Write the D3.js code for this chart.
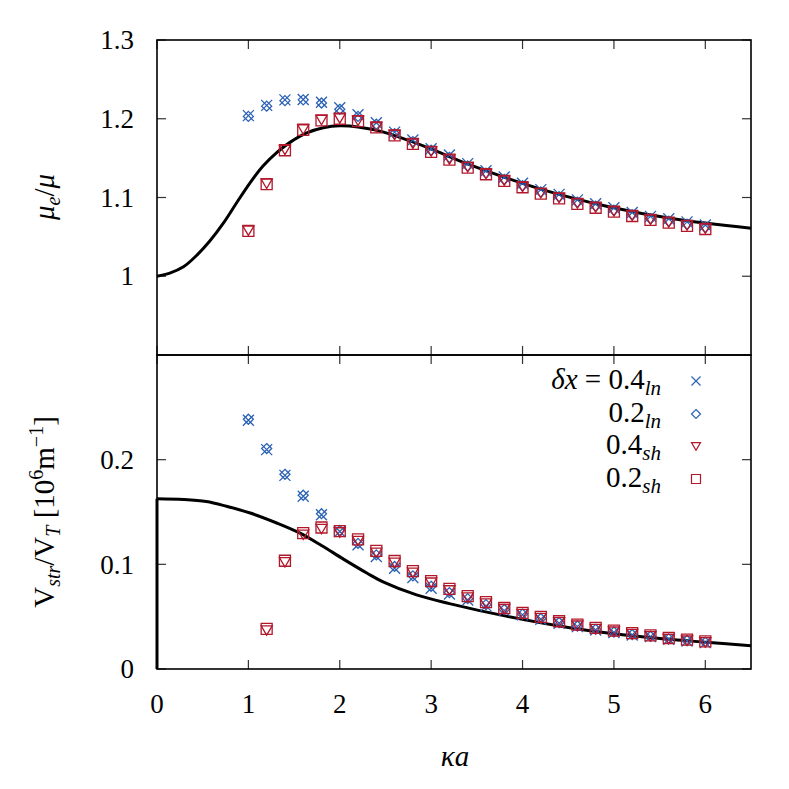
<!doctype html>
<meta charset='utf-8' />
<script src='https://cdn.jsdelivr.net/npm/d3@7'></script>
<style>
    body { margin: 0; background: #fff; }
</style>
<svg></svg>
<script>
    var width = 789,
        height = 789,
        fontSize = 27,
        tickLen = 9,
        serif = "'Liberation Serif', 'DejaVu Serif', 'Times New Roman', serif"

    // data points, kappa*a
    var kappa = [1.0, 1.2, 1.4, 1.6, 1.8, 2.0, 2.2, 2.4, 2.6, 2.8, 3.0, 3.2, 3.4,
        3.6, 3.8, 4.0, 4.2, 4.4, 4.6, 4.8, 5.0, 5.2, 5.4, 5.6, 5.8, 6.0]

    // mu_e / mu
    var muLn04 = [1.204, 1.217, 1.224, 1.2245, 1.221, 1.214, 1.205, 1.195, 1.183, 1.173, 1.162, 1.154, 1.143,
        1.134, 1.126, 1.118, 1.110, 1.104, 1.097, 1.092, 1.087, 1.081, 1.076, 1.073, 1.069, 1.065]
    var muLn02 = [1.203, 1.216, 1.223, 1.224, 1.220, 1.212, 1.203, 1.193, 1.181, 1.171, 1.160, 1.151, 1.140,
        1.131, 1.123, 1.115, 1.107, 1.101, 1.094, 1.089, 1.084, 1.078, 1.073, 1.070, 1.066, 1.062]
    var muSh04 = [1.0585, 1.118, 1.161, 1.187, 1.199, 1.201, 1.198, 1.190, 1.180, 1.169, 1.159, 1.149, 1.139,
        1.1305, 1.122, 1.114, 1.106, 1.100, 1.093, 1.088, 1.083, 1.0775, 1.0725, 1.069, 1.065, 1.061]
    var muSh02 = [1.0575, 1.117, 1.160, 1.186, 1.198, 1.200, 1.197, 1.189, 1.179, 1.168, 1.158, 1.148, 1.138,
        1.1295, 1.121, 1.113, 1.105, 1.099, 1.092, 1.087, 1.082, 1.0765, 1.0715, 1.068, 1.064, 1.060]

    // V_str / V_T
    var vLn04 = [0.2376, 0.2096, 0.185, 0.165, 0.1474, 0.1314, 0.1187, 0.1075, 0.0963, 0.0874, 0.0772, 0.0716, 0.066,
        0.0603, 0.0558, 0.0517, 0.0475, 0.0437, 0.0405, 0.0373, 0.0348, 0.0325, 0.0309, 0.0284, 0.0268, 0.0252]
    var vLn02 = [0.2386, 0.2106, 0.186, 0.166, 0.1484, 0.1324, 0.1200, 0.1090, 0.0980, 0.0890, 0.0790, 0.0730, 0.0672,
        0.0615, 0.0568, 0.0525, 0.0483, 0.0444, 0.0411, 0.0379, 0.0353, 0.0330, 0.0313, 0.0288, 0.0272, 0.0256]
    var vSh04 = [null, 0.0373, 0.1024, 0.1288, 0.1342, 0.1310, 0.1228, 0.1115, 0.1020, 0.0925, 0.0830, 0.0756, 0.0688,
        0.0631, 0.0577, 0.0530, 0.0492, 0.0451, 0.0419, 0.0387, 0.0362, 0.0339, 0.0317, 0.0292, 0.0276, 0.0260]
    var vSh02 = [null, 0.0383, 0.1034, 0.1298, 0.1352, 0.1318, 0.1238, 0.1128, 0.1032, 0.0936, 0.0840, 0.0765, 0.0696,
        0.0638, 0.0583, 0.0536, 0.0498, 0.0456, 0.0424, 0.0392, 0.0366, 0.0343, 0.0321, 0.0296, 0.0280, 0.0264]

    // theory curves
    var muCurveKa = [0, 0.14, 0.29, 0.43, 0.58, 0.73, 0.87, 1.02, 1.16, 1.31, 1.455, 1.64, 1.82, 2.0, 2.2, 2.48, 2.95, 3.39, 4.19, 4.92, 5.65, 6.5]
    var muCurve = [1.0, 1.004, 1.012, 1.026, 1.045, 1.068, 1.093, 1.119, 1.140, 1.157, 1.170, 1.182, 1.1885, 1.191, 1.1895, 1.183, 1.164, 1.143, 1.111, 1.089, 1.073, 1.061]
    var vCurveKa = [0, 0.29, 0.54, 0.76, 1.02, 1.31, 1.56, 1.8, 2.04, 2.3, 2.48, 2.84, 3.2, 3.82, 4.55, 5.28, 6.01, 6.5]
    var vCurve = [0.1627, 0.1620, 0.1600, 0.1555, 0.1490, 0.1395, 0.1300, 0.1180, 0.1050, 0.0915, 0.0830, 0.0708, 0.0625, 0.0505, 0.0390, 0.0310, 0.0255, 0.0223]

    var xTicks = [0, 1, 2, 3, 4, 5, 6]
    var muTicks = [1, 1.1, 1.2, 1.3]
    var vTicks = [0, 0.1, 0.2]

    var blue = '#2b62b3',
        red = '#b2182b'

    var svg = d3.select('svg')
        .attr('width', width)
        .attr('height', height)
        .style('font-family', serif)

    var x = d3.scaleLinear().domain([0, 6.5]).range([157, 751])
    var yTop = d3.scaleLinear().domain([0.9, 1.3]).range([355, 40])
    var yBot = d3.scaleLinear().domain([0, 0.3]).range([669, 355])

    // marker shapes
    function cross(s) { return `M${-s},${-s}L${s},${s}M${-s},${s}L${s},${-s}` }
    function diamond(s) { return `M0,${-s}L${s},0L0,${s}L${-s},0Z` }
    function triangle(s) { return `M${-s},${-s * 0.75}L${s},${-s * 0.75}L0,${s * 0.95}Z` }
    function square(s) { return `M${-s},${-s}L${s},${-s}L${s},${s}L${-s},${s}Z` }

    var series = [
        { name: 'ln04', shape: cross, color: blue, size: 5.5 },
        { name: 'ln02', shape: diamond, color: blue, size: 5 },
        { name: 'sh04', shape: triangle, color: red, size: 5.5 },
        { name: 'sh02', shape: square, color: red, size: 5.5 }
    ]
    var muData = [muLn04, muLn02, muSh04, muSh02]
    var vData = [vLn04, vLn02, vSh04, vSh02]

    function drawPanel(y, ticks, values, curveKa, curveVals, extraTicks) {
        var g = svg.append('g')
        var x0 = x.range()[0], x1 = x.range()[1]
        var y0 = y.range()[0], y1 = y.range()[1]

        // ticks on all four sides, pointing in
        xTicks.forEach(t => {
            g.append('line').attr('x1', x(t)).attr('x2', x(t)).attr('y1', y0).attr('y2', y0 - tickLen)
            g.append('line').attr('x1', x(t)).attr('x2', x(t)).attr('y1', y1).attr('y2', y1 + tickLen)
        })
        ticks.concat(extraTicks).forEach(t => {
            g.append('line').attr('x1', x0).attr('x2', x0 + tickLen).attr('y1', y(t)).attr('y2', y(t))
            g.append('line').attr('x1', x1).attr('x2', x1 - tickLen).attr('y1', y(t)).attr('y2', y(t))
        })
        g.selectAll('line').style('stroke', '#333').style('stroke-width', 1.2)

        g.selectAll('text.ytick')
            .data(ticks)
            .enter()
            .append('text')
            .attr('x', 134)
            .attr('y', d => y(d))
            .attr('dy', '0.34em')
            .attr('text-anchor', 'end')
            .attr('font-size', fontSize)
            .text(d => d)

        // theory line
        var pts = curveKa.map((k, i) => [k, curveVals[i]])
        g.append('path')
            .attr('d', d3.line().x(d => x(d[0])).y(d => y(d[1])).curve(d3.curveCatmullRom.alpha(0.5))(pts))
            .style('fill', 'none')
            .style('stroke', '#000')
            .style('stroke-width', 3)

        // simulation markers
        series.forEach((s, si) => {
            var pts = kappa.map((k, i) => [k, values[si][i]]).filter(d => d[1] != null)
            g.selectAll('path.m' + s.name)
                .data(pts)
                .enter()
                .append('path')
                .attr('transform', d => `translate(${x(d[0])},${y(d[1])})`)
                .attr('d', s.shape(s.size))
                .style('fill', 'none')
                .style('stroke', s.color)
                .style('stroke-width', 1.3)
        })

        // frame
        g.append('rect')
            .attr('x', x0).attr('y', y1)
            .attr('width', x1 - x0).attr('height', y0 - y1)
            .style('fill', 'none')
            .style('stroke', '#000')
            .style('stroke-width', 1.6)
        return g
    }

    drawPanel(yTop, muTicks, muData, muCurveKa, muCurve, [0.9])
    var gb = drawPanel(yBot, vTicks, vData, vCurveKa, vCurve, [0.3])

    // vertical jump of the theory curve at ka = 0
    gb.append('path')
        .attr('d', d3.line().x(d => x(d[0])).y(d => yBot(d[1]))([[0, 0], [0, vCurve[0]]]))
        .style('stroke', '#000')
        .style('stroke-width', 3)

    // x tick labels
    svg.selectAll('text.xtick')
        .data(xTicks)
        .enter()
        .append('text')
        .attr('x', d => x(d))
        .attr('y', 713)
        .attr('text-anchor', 'middle')
        .attr('font-size', fontSize)
        .text(d => d)

    // axis titles
    svg.append('text')
        .attr('x', 455).attr('y', 766)
        .attr('text-anchor', 'middle')
        .attr('font-size', 29)
        .style('font-style', 'italic')
        .text('κa')

    var yl1 = svg.append('text')
        .attr('transform', 'translate(54,197) rotate(-90)')
        .attr('text-anchor', 'middle')
        .attr('font-size', 29)
    yl1.append('tspan').style('font-style', 'italic').text('μ')
    yl1.append('tspan').style('font-style', 'italic').attr('font-size', 20).attr('dy', 6).text('e')
    yl1.append('tspan').attr('dy', -6).text('/')
    yl1.append('tspan').style('font-style', 'italic').text('μ')

    var yl2 = svg.append('text')
        .attr('transform', 'translate(54,512) rotate(-90)')
        .attr('text-anchor', 'middle')
        .attr('font-size', 29)
    yl2.append('tspan').text('V')
    yl2.append('tspan').style('font-style', 'italic').attr('font-size', 20).attr('dy', 6).text('str')
    yl2.append('tspan').attr('dy', -6).text('/V')
    yl2.append('tspan').style('font-style', 'italic').attr('font-size', 20).attr('dy', 6).text('T')
    yl2.append('tspan').attr('dy', -6).text(' [10')
    yl2.append('tspan').attr('font-size', 20).attr('dy', -11).text('6')
    yl2.append('tspan').attr('dy', 11).text('m')
    yl2.append('tspan').attr('font-size', 20).attr('dy', -11).text('−1')
    yl2.append('tspan').attr('dy', 11).text(']')

    // legend
    var legendMain = ['δx = 0.4', '0.2', '0.4', '0.2']
    var legendSub = ['ln', 'ln', 'sh', 'sh']
    var legendY = [381, 414, 446, 479]

    legendMain.forEach((t, i) => {
        var lt = svg.append('text')
            .attr('x', 661)
            .attr('y', legendY[i] + 8)
            .attr('text-anchor', 'end')
            .attr('font-size', 29)
        if (i == 0) {
            lt.append('tspan').style('font-style', 'italic').text('δx')
            lt.append('tspan').text(' = 0.4')
        } else {
            lt.append('tspan').text(t)
        }
        lt.append('tspan').style('font-style', 'italic').attr('font-size', 21).attr('dy', 6).text(legendSub[i])
        svg.append('path')
            .attr('transform', `translate(696,${legendY[i]})`)
            .attr('d', series[i].shape(4.5))
            .style('fill', 'none')
            .style('stroke', series[i].color)
            .style('stroke-width', 1.2)
    })

    svg.selectAll('text').style('font-family', serif)
</script>
